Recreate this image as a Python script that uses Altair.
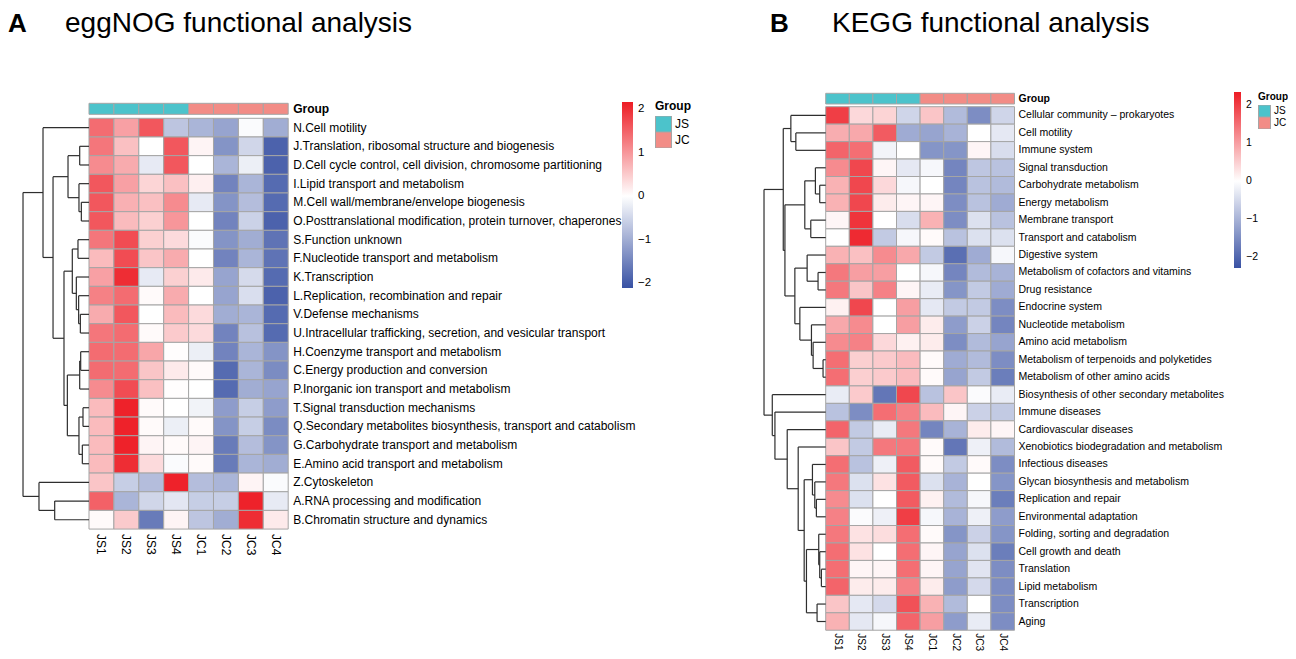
import altair as alt
import pandas as pd

# ---------------- data ----------------
samples = ["JS1", "JS2", "JS3", "JS4", "JC1", "JC2", "JC3", "JC4"]
sample_groups = ["JS", "JS", "JS", "JS", "JC", "JC", "JC", "JC"]
group_names = ["JS", "JC"]
group_colors = ["#4CC3CB", "#F28C86"]

egg_rows = [
    "N.Cell motility",
    "J.Translation, ribosomal structure and biogenesis",
    "D.Cell cycle control, cell division, chromosome partitioning",
    "I.Lipid transport and metabolism",
    "M.Cell wall/membrane/envelope biogenesis",
    "O.Posttranslational modification, protein turnover, chaperones",
    "S.Function unknown",
    "F.Nucleotide transport and metabolism",
    "K.Transcription",
    "L.Replication, recombination and repair",
    "V.Defense mechanisms",
    "U.Intracellular trafficking, secretion, and vesicular transport",
    "H.Coenzyme transport and metabolism",
    "C.Energy production and conversion",
    "P.Inorganic ion transport and metabolism",
    "T.Signal transduction mechanisms",
    "Q.Secondary metabolites biosynthesis, transport and catabolism",
    "G.Carbohydrate transport and metabolism",
    "E.Amino acid transport and metabolism",
    "Z.Cytoskeleton",
    "A.RNA processing and modification",
    "B.Chromatin structure and dynamics",
]
egg_vals = [
    [1.4, 0.9, 1.6, -0.7, -0.9, -1.1, -0.05, -1.0],
    [1.3, 0.6, 0.0, 1.6, 0.1, -1.3, -0.5, -1.9],
    [1.1, 0.8, -0.25, 1.6, 0.0, -0.9, -0.2, -1.9],
    [1.6, 0.9, 0.4, 0.6, 0.15, -1.5, -0.9, -1.8],
    [1.6, 0.75, 0.6, 1.1, -0.25, -1.3, -0.8, -1.8],
    [1.6, 0.65, 0.45, 1.0, 0.0, -1.5, -0.55, -1.9],
    [1.3, 1.7, 0.45, 0.35, -0.05, -1.3, -1.0, -1.7],
    [0.65, 1.7, 0.55, 0.8, 0.0, -1.5, -0.9, -1.7],
    [0.9, 2.0, -0.25, 0.45, 0.2, -1.1, -0.45, -1.8],
    [1.2, 1.4, 0.05, 0.8, 0.0, -1.1, -0.4, -1.9],
    [0.8, 1.6, 0.0, 0.65, 0.35, -1.0, -0.9, -1.8],
    [1.3, 1.4, 0.05, 0.5, 0.35, -1.5, -0.75, -1.8],
    [1.4, 1.4, 0.85, 0.02, -0.2, -1.5, -0.9, -1.3],
    [1.4, 1.4, 0.55, 0.2, 0.05, -1.8, -0.9, -1.4],
    [1.1, 1.7, 0.6, 0.02, 0.0, -1.8, -1.0, -1.1],
    [0.65, 2.1, 0.05, 0.0, -0.15, -1.2, -0.6, -1.2],
    [0.65, 2.1, 0.05, -0.2, 0.05, -1.3, -0.6, -1.4],
    [0.65, 2.1, 0.1, 0.05, 0.1, -1.6, -0.8, -1.3],
    [0.65, 2.0, 0.35, -0.05, 0.05, -1.6, -0.9, -1.0],
    [0.55, -0.6, -0.8, 2.1, -0.8, -0.9, 0.1, -0.05],
    [1.5, -0.9, -0.5, -0.3, -0.6, -0.6, 2.1, -0.25],
    [0.05, 0.5, -1.6, 0.1, -0.7, -1.0, 2.0, 0.2],
]
# row clustering: (cluster name, left, right, merge height)
egg_merges = [
    ("JD", 1, 2, 1.41), ("MO", 4, 5, 1.16), ("IMO", 3, "MO", 1.52),
    ("g1", "JD", "IMO", 3.18), ("SF", 6, 7, 1.67), ("VU", 10, 11, 1.31),
    ("LVU", 9, "VU", 1.57), ("KLVU", 8, "LVU", 1.92), ("g2", "SF", "KLVU", 2.53),
    ("HC", 12, 13, 1.26), ("HCP", "HC", 14, 1.41), ("TQ", 15, 16, 0.91),
    ("GE", 17, 18, 1.01), ("TQGE", "TQ", "GE", 1.52), ("g3", "HCP", "TQGE", 3.28),
    ("g4", "g2", "g3", 3.79), ("g5", "g1", "g4", 5.45), ("g6", 0, "g5", 6.97),
    ("AB", 20, 21, 5.2), ("ZAB", 19, "AB", 7.58), ("root", "g6", "ZAB", 10.0),
]

kegg_rows = [
    "Cellular community \u2013 prokaryotes", "Cell motility", "Immune system",
    "Signal transduction", "Carbohydrate metabolism", "Energy metabolism",
    "Membrane transport", "Transport and catabolism", "Digestive system",
    "Metabolism of cofactors and vitamins", "Drug resistance", "Endocrine system",
    "Nucleotide metabolism", "Amino acid metabolism",
    "Metabolism of terpenoids and polyketides", "Metabolism of other amino acids",
    "Biosynthesis of other secondary metabolites", "Immune diseases",
    "Cardiovascular diseases", "Xenobiotics biodegradation and metabolism",
    "Infectious diseases", "Glycan biosynthesis and metabolism",
    "Replication and repair", "Environmental adaptation",
    "Folding, sorting and degradation", "Cell growth and death", "Translation",
    "Lipid metabolism", "Transcription", "Aging",
]
kegg_vals = [
    [2.0, 0.4, 0.45, -0.55, 0.6, -0.9, -1.5, -0.55],
    [0.85, 0.9, 1.7, -1.1, -1.2, -1.0, 0.0, -0.3],
    [1.6, 1.5, -0.15, 0.0, -1.4, -1.4, 0.1, -0.45],
    [1.2, 1.9, 0.1, -0.3, -0.1, -1.6, -0.75, -0.8],
    [0.8, 1.9, 0.4, -0.1, 0.0, -1.6, -0.8, -0.9],
    [0.8, 1.9, 0.2, 0.1, 0.1, -1.5, -0.8, -1.1],
    [0.1, 2.1, 0.0, -0.45, 0.8, -1.5, -0.4, -0.8],
    [0.0, 2.2, -0.7, -0.1, 0.05, -0.8, -0.4, -0.4],
    [0.8, 0.65, 1.2, 0.9, -0.7, -1.9, -1.1, -0.1],
    [1.4, 1.0, 1.0, 0.0, -0.1, -1.6, -0.9, -1.0],
    [1.4, 0.6, 1.3, 0.1, -0.25, -1.4, -0.7, -1.1],
    [0.15, 1.9, 0.0, 1.0, -0.3, -0.7, -0.7, -1.5],
    [0.9, 1.2, 0.0, 1.0, 0.2, -1.3, -0.6, -1.6],
    [1.2, 1.3, 0.4, 0.15, 0.2, -1.5, -0.9, -1.2],
    [1.5, 0.5, 0.55, 0.7, 0.05, -1.1, -0.9, -1.5],
    [1.5, 0.5, 0.55, 0.7, 0.05, -1.2, -0.7, -1.7],
    [-0.25, 0.55, -1.8, 1.9, -0.8, 0.6, -0.05, -0.25],
    [-0.8, -1.5, 1.5, 1.3, 0.7, 0.1, -0.6, -0.7],
    [1.6, -0.7, -0.25, 1.4, -1.6, -1.0, 0.2, 0.1],
    [0.6, -0.7, 1.4, 1.4, 0.05, -1.8, -0.2, -0.9],
    [1.5, -0.8, -0.2, 1.7, 0.05, -0.7, 0.05, -1.5],
    [1.4, -0.4, 0.3, 1.7, -0.4, -1.0, 0.0, -1.4],
    [1.2, -0.4, 0.0, 1.7, 0.15, -0.9, -0.1, -1.7],
    [1.3, -0.05, -0.2, 2.0, -0.1, -1.0, -0.2, -1.3],
    [1.4, 0.3, 0.35, 1.5, 0.05, -1.4, -0.6, -1.4],
    [1.5, 0.3, 0.0, 1.5, 0.1, -1.2, -0.4, -1.7],
    [1.5, 0.1, 0.1, 1.5, 0.1, -1.2, -0.35, -1.5],
    [1.6, 0.2, 0.2, 1.3, 0.2, -1.3, -0.5, -1.5],
    [0.6, -0.3, -0.5, 1.8, 0.8, -0.9, 0.0, -1.5],
    [0.8, -0.3, -0.1, 1.6, 1.0, -1.3, -0.25, -1.5],
]
kegg_merges = [
    ("23", 1, 2, 4.84), ("b1", 0, "23", 5.65), ("56", 4, 5, 0.97),
    ("456", 3, "56", 1.67), ("78", 6, 7, 2.42), ("b2", "456", "78", 3.39),
    ("1011", 9, 10, 1.24), ("b3", 8, "1011", 3.01), ("1516", 14, 15, 0.43),
    ("b4", 13, "1516", 2.04), ("b5", 12, "b4", 2.31), ("b6", 11, "b5", 4.19),
    ("b7", "b3", "b6", 5.0), ("b8", "b2", "b7", 6.61), ("b9", "b1", "b8", 6.88),
    ("2324", 22, 23, 1.51), ("c1", 21, "2324", 1.77), ("c2", 20, "c1", 2.15),
    ("2728", 26, 27, 0.70), ("c3", 25, "2728", 0.97), ("c4", 24, "c3", 1.13),
    ("2930", 28, 29, 1.40), ("c5", "c4", "2930", 3.12), ("c6", "c2", "c5", 3.49),
    ("c7", 19, "c6", 4.46), ("c8", 18, "c7", 6.24), ("c9", 17, "c8", 8.23),
    ("c10", 16, "c9", 8.66), ("root", "b9", "c10", 10.0),
]

panel_letters = ["A", "B"]
panel_titles = ["eggNOG functional analysis", "KEGG functional analysis"]

FONT = "Liberation Sans"
BLUE, WHITE, RED = "#3851A3", "#FFFFFF", "#ED1C24"


def dendro_segments(merges, n, depth):
    hmax = max(m[3] for m in merges)
    pos = {i: (i + 0.5, 0.0) for i in range(n)}
    segs = []
    for name, a, b, h in merges:
        ya, ha = pos[a]
        yb, hb = pos[b]
        xh = -depth * h / hmax
        segs.append(dict(x=xh, x2=xh, y=ya, y2=yb))
        segs.append(dict(x=xh, x2=-depth * ha / hmax, y=ya, y2=ya))
        segs.append(dict(x=xh, x2=-depth * hb / hmax, y=yb, y2=yb))
        pos[name] = ((ya + yb) / 2, h)
    return pd.DataFrame(segs)


def panel(rows, vals, merges, letter, title, p):
    n = len(rows)
    cells = pd.DataFrame([
        dict(row=r, sample=s, value=vals[i][j], x0=j, x1=j + 1, y0=i, y1=i + 1)
        for i, r in enumerate(rows) for j, s in enumerate(samples)
    ])
    grp = pd.DataFrame([
        dict(sample=s, Group=g, x0=j, x1=j + 1, y0=p["gtop"], y1=p["gbot"])
        for j, (s, g) in enumerate(zip(samples, sample_groups))
    ])
    rlab = pd.DataFrame(dict(label=rows, x=[len(samples)] * n, y=[i + 0.5 for i in range(n)]))
    clab = pd.DataFrame(dict(label=samples, x=[j + 0.5 for j in range(len(samples))], y=[n] * len(samples)))
    glab = pd.DataFrame(dict(label=["Group"], x=[len(samples)], y=[(p["gtop"] + p["gbot"]) / 2]))
    segs = dendro_segments(merges, n, p["depth"])

    xs = alt.Scale(domain=p["xdom"], nice=False, zero=False)
    ys = alt.Scale(domain=p["ydom"], nice=False, zero=False, reverse=True)

    heat = alt.Chart(cells).mark_rect(stroke="#A5A5A5", strokeWidth=1).encode(
        x=alt.X("x0:Q", scale=xs, axis=None), x2="x1:Q",
        y=alt.Y("y0:Q", scale=ys, axis=None), y2="y1:Q",
        fill=alt.Fill("value:Q",
                      scale=alt.Scale(domain=[p["cmin"], 0, p["cmax"]], range=[BLUE, WHITE, RED],
                                      interpolate="rgb"),
                      legend=alt.Legend(orient="none", legendX=p["gx"], legendY=p["gy"], title=None,
                                        direction="vertical", gradientLength=p["glen"],
                                        gradientThickness=p["gth"], values=[-2, -1, 0, 1, 2],
                                        labelFontSize=p["lfs"], labelFont=FONT, labelOffset=5,
                                        labelColor="black",
                                        gradientStrokeWidth=0, padding=0, offset=0)),
    )
    gbar = alt.Chart(grp).mark_rect(stroke="#A5A5A5", strokeWidth=1).encode(
        x="x0:Q", x2="x1:Q", y="y0:Q", y2="y1:Q",
        color=alt.Color("Group:N", scale=alt.Scale(domain=group_names, range=group_colors),
                        legend=alt.Legend(orient="none", legendX=p["kx"], legendY=p["ky"],
                                          title="Group", titleFontSize=p["kfs"], titleFont=FONT,
                                          titleFontWeight="bold", titlePadding=3, titleColor="black",
                                          labelFontSize=p["kfs"], labelFont=FONT, labelOffset=3,
                                          labelColor="black",
                                          symbolType="square", symbolSize=p["ss"],
                                          symbolStrokeColor="#A5A5A5", symbolStrokeWidth=1,
                                          symbolOpacity=1, clipHeight=p["ch"], rowPadding=0,
                                          padding=0, offset=0)),
    )
    tree = alt.Chart(segs).mark_rule(color="#2E2E2E", strokeWidth=1.2).encode(
        x="x:Q", x2="x2:Q", y="y:Q", y2="y2:Q")
    rtext = alt.Chart(rlab).mark_text(align="left", baseline="middle", dx=p["rdx"],
                                      fontSize=p["fs"], font=FONT, color="black").encode(
        x="x:Q", y="y:Q", text="label:N")
    gtext = alt.Chart(glab).mark_text(align="left", baseline="middle", dx=p["rdx"], fontWeight="bold",
                                      fontSize=p["fs"], font=FONT, color="black").encode(
        x="x:Q", y="y:Q", text="label:N")
    ctext = alt.Chart(clab).mark_text(align="left", baseline="middle", angle=90, dx=p["cdx"],
                                      fontSize=p["cfs"], font=FONT, color="black").encode(
        x="x:Q", y="y:Q", text="label:N")
    t_letter = alt.Chart(pd.DataFrame(dict(t=[letter]))).mark_text(
        align="left", baseline="alphabetic", fontSize=26, fontWeight="bold", font=FONT, color="black"
    ).encode(x=alt.value(p["lx"]), y=alt.value(24), text="t:N")
    t_title = alt.Chart(pd.DataFrame(dict(t=[title]))).mark_text(
        align="left", baseline="alphabetic", fontSize=28, font=FONT, color="black"
    ).encode(x=alt.value(p["tx"]), y=alt.value(24), text="t:N")

    return alt.layer(heat, gbar, tree, rtext, gtext, ctext, t_letter, t_title).properties(
        width=p["w"], height=p["h"]
    ).resolve_scale(fill="independent", color="independent")


pA = dict(w=747, h=643, xdom=[-3.253, 26.747], ydom=[-5.908, 28.53], depth=2.65,
          gtop=-0.803, gbot=-0.214, cmin=-2.11, cmax=2.16,
          gx=614, gy=94, glen=186, gth=11, kx=647, ky=93, ss=256, ch=16, lfs=11.5, kfs=12,
          fs=12, cfs=12, rdx=5, cdx=5, lx=0, tx=57)
pB = dict(w=533, h=643, xdom=[-2.996, 19.589], ydom=[-5.656, 31.19], depth=2.614,
          gtop=-0.768, gbot=-0.155, cmin=-2.29, cmax=2.35,
          gx=479, gy=84, glen=176, gth=7, kx=503, ky=84, ss=144, ch=12, lfs=10.5, kfs=10,
          fs=10.5, cfs=10, rdx=4, cdx=3, lx=15, tx=77)

chartA = panel(egg_rows, egg_vals, egg_merges, panel_letters[0], panel_titles[0], pA)
chartB = panel(kegg_rows, kegg_vals, kegg_merges, panel_letters[1], panel_titles[1], pB)

chart = alt.hconcat(chartA, chartB, spacing=0).resolve_scale(
    x="independent", y="independent", fill="independent", color="independent"
).resolve_legend(fill="independent", color="independent").properties(
    padding=0, background="white"
).configure_view(strokeWidth=0)

chart.save("out.html", embed_options={"renderer": "svg", "actions": False})
